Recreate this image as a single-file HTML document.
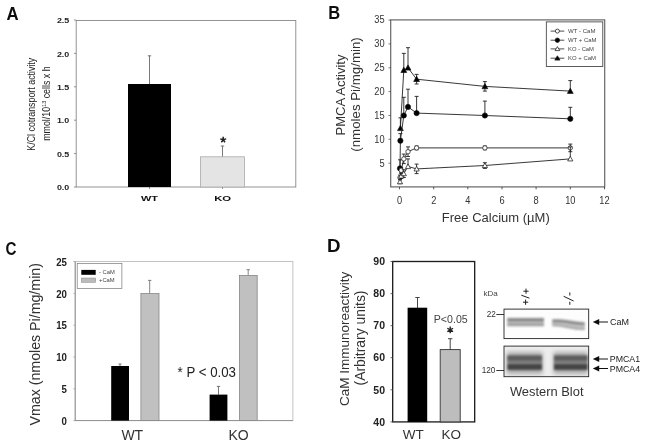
<!DOCTYPE html>
<html><head><meta charset="utf-8"><title>Figure</title>
<style>
html,body{margin:0;padding:0;background:#fff;}
body{width:645px;height:446px;overflow:hidden;font-family:"Liberation Sans",sans-serif;}
svg{display:block;font-family:"Liberation Sans",sans-serif;}
</style></head><body>
<svg width="645" height="446" viewBox="0 0 645 446">
<defs>
<filter id="bl" x="-5%" y="-5%" width="110%" height="110%"><feGaussianBlur stdDeviation="0.45"/></filter>
<filter id="b1" x="-20%" y="-60%" width="140%" height="220%"><feGaussianBlur stdDeviation="0.9"/></filter>
<filter id="b2" x="-20%" y="-60%" width="140%" height="220%"><feGaussianBlur stdDeviation="1.3"/></filter>
<filter id="b3" x="-20%" y="-60%" width="140%" height="220%"><feGaussianBlur stdDeviation="2"/></filter>
<clipPath id="cb"><rect x="504" y="346" width="85" height="31"/></clipPath>
</defs>
<rect width="645" height="446" fill="#fff"/>
<g filter="url(#bl)">

<!-- ===== Panel A ===== -->
<g id="pA">
<text transform="translate(6.4,19.9) scale(0.94,1)" text-anchor="start" font-size="17.8" font-weight="bold" fill="#111">A</text>
<rect x="76.2" y="20.5" width="219.6" height="166.5" fill="none" stroke="#888" stroke-width="0.9"/>
<path d="M74 187.0H76.2" stroke="#777" stroke-width="0.8"/>
<text x="69.3" y="190.1" text-anchor="end" font-size="6.8" font-weight="bold" fill="#222" textLength="12.4" lengthAdjust="spacingAndGlyphs">0.0</text>
<path d="M74 153.6H76.2" stroke="#777" stroke-width="0.8"/>
<text x="69.3" y="156.7" text-anchor="end" font-size="6.8" font-weight="bold" fill="#222" textLength="12.4" lengthAdjust="spacingAndGlyphs">0.5</text>
<path d="M74 120.2H76.2" stroke="#777" stroke-width="0.8"/>
<text x="69.3" y="123.3" text-anchor="end" font-size="6.8" font-weight="bold" fill="#222" textLength="12.4" lengthAdjust="spacingAndGlyphs">1.0</text>
<path d="M74 86.8H76.2" stroke="#777" stroke-width="0.8"/>
<text x="69.3" y="89.9" text-anchor="end" font-size="6.8" font-weight="bold" fill="#222" textLength="12.4" lengthAdjust="spacingAndGlyphs">1.5</text>
<path d="M74 53.4H76.2" stroke="#777" stroke-width="0.8"/>
<text x="69.3" y="56.5" text-anchor="end" font-size="6.8" font-weight="bold" fill="#222" textLength="12.4" lengthAdjust="spacingAndGlyphs">2.0</text>
<path d="M74 20.0H76.2" stroke="#777" stroke-width="0.8"/>
<text x="69.3" y="23.1" text-anchor="end" font-size="6.8" font-weight="bold" fill="#222" textLength="12.4" lengthAdjust="spacingAndGlyphs">2.5</text>
<path d="M149.5 187V189M222.5 187V189" stroke="#777" stroke-width="0.8"/>
<path d="M149.5 84V55.8M147.8 55.8H151.2" stroke="#555" stroke-width="0.8" fill="none"/>
<rect x="128" y="84" width="43" height="103" fill="#000"/>
<path d="M222.5 157V146M220.8 146H224.2" stroke="#555" stroke-width="0.8" fill="none"/>
<rect x="200.5" y="156.8" width="44" height="30.2" fill="#e4e4e4" stroke="#aaa" stroke-width="0.8"/>
<path d="M223.2 139.8L223.20 136.70M223.2 139.8L226.15 138.84M223.2 139.8L225.02 142.31M223.2 139.8L221.38 142.31M223.2 139.8L220.25 138.84" stroke="#222" stroke-width="1.5" fill="none"/>
<text x="149.5" y="200.6" text-anchor="middle" font-size="7.4" font-weight="bold" fill="#111" textLength="17" lengthAdjust="spacingAndGlyphs">WT</text>
<text x="222.7" y="200.6" text-anchor="middle" font-size="7.4" font-weight="bold" fill="#111" textLength="17" lengthAdjust="spacingAndGlyphs">KO</text>
<text transform="translate(35.3,104.2) rotate(-90) scale(0.885,1)" text-anchor="middle" font-size="10" fill="#222">K/Cl cotransport activity</text>
<text transform="translate(50.1,103.6) rotate(-90) scale(0.885,1)" text-anchor="middle" font-size="10" fill="#222">mmol/10<tspan dy="-3.8" font-size="6.2">13</tspan><tspan dy="3.8"> cells x h</tspan></text>
</g>

<!-- ===== Panel B ===== -->
<g id="pB">
<text transform="translate(328.2,18.8) scale(0.86,1)" text-anchor="start" font-size="19.2" font-weight="bold" fill="#111">B</text>
<rect x="390.7" y="19.9" width="214" height="167" fill="none" stroke="#666" stroke-width="1.2"/>
<path d="M388.5 163.2H391" stroke="#555" stroke-width="0.8"/>
<text transform="translate(384.6,166.5) scale(0.9,1)" text-anchor="end" font-size="10.3" fill="#333">5</text>
<path d="M388.5 139.3H391" stroke="#555" stroke-width="0.8"/>
<text transform="translate(384.6,142.6) scale(0.9,1)" text-anchor="end" font-size="10.3" fill="#333">10</text>
<path d="M388.5 115.5H391" stroke="#555" stroke-width="0.8"/>
<text transform="translate(384.6,118.8) scale(0.9,1)" text-anchor="end" font-size="10.3" fill="#333">15</text>
<path d="M388.5 91.6H391" stroke="#555" stroke-width="0.8"/>
<text transform="translate(384.6,94.9) scale(0.9,1)" text-anchor="end" font-size="10.3" fill="#333">20</text>
<path d="M388.5 67.8H391" stroke="#555" stroke-width="0.8"/>
<text transform="translate(384.6,71.1) scale(0.9,1)" text-anchor="end" font-size="10.3" fill="#333">25</text>
<path d="M388.5 43.9H391" stroke="#555" stroke-width="0.8"/>
<text transform="translate(384.6,47.2) scale(0.9,1)" text-anchor="end" font-size="10.3" fill="#333">30</text>
<path d="M388.5 20.1H391" stroke="#555" stroke-width="0.8"/>
<text transform="translate(384.6,23.4) scale(0.9,1)" text-anchor="end" font-size="10.3" fill="#333">35</text>
<path d="M399.5 187V189.3" stroke="#444" stroke-width="0.9"/>
<text transform="translate(399.5,204.1) scale(0.9,1)" text-anchor="middle" font-size="10.3" fill="#333">0</text>
<path d="M433.7 187V189.3" stroke="#444" stroke-width="0.9"/>
<text transform="translate(433.7,204.1) scale(0.9,1)" text-anchor="middle" font-size="10.3" fill="#333">2</text>
<path d="M467.8 187V189.3" stroke="#444" stroke-width="0.9"/>
<text transform="translate(467.8,204.1) scale(0.9,1)" text-anchor="middle" font-size="10.3" fill="#333">4</text>
<path d="M502.0 187V189.3" stroke="#444" stroke-width="0.9"/>
<text transform="translate(502.0,204.1) scale(0.9,1)" text-anchor="middle" font-size="10.3" fill="#333">6</text>
<path d="M536.1 187V189.3" stroke="#444" stroke-width="0.9"/>
<text transform="translate(536.1,204.1) scale(0.9,1)" text-anchor="middle" font-size="10.3" fill="#333">8</text>
<path d="M570.3 187V189.3" stroke="#444" stroke-width="0.9"/>
<text transform="translate(570.3,204.1) scale(0.9,1)" text-anchor="middle" font-size="10.3" fill="#333">10</text>
<path d="M604.5 187V189.3" stroke="#444" stroke-width="0.9"/>
<text transform="translate(604.5,204.1) scale(0.9,1)" text-anchor="middle" font-size="10.3" fill="#333">12</text>
<path d="M400.4 128.3 L403.8 70.1 L408.0 67.8 L416.6 79.2 L484.9 86.4 L570.3 91.1" fill="none" stroke="#222" stroke-width="0.9"/>
<path d="M400.4 128.3V117.8M398.4 117.8H402.4" stroke="#222" stroke-width="0.9" fill="none"/>
<path d="M403.8 70.1V53.4M401.8 53.4H405.8" stroke="#222" stroke-width="0.9" fill="none"/>
<path d="M408.0 67.8V47.7M406.0 47.7H410.0" stroke="#222" stroke-width="0.9" fill="none"/>
<path d="M416.6 79.2V74.4M414.6 74.4H418.6" stroke="#222" stroke-width="0.9" fill="none"/>
<path d="M416.6 79.2V84.0M414.6 84.0H418.6" stroke="#222" stroke-width="0.9" fill="none"/>
<path d="M484.9 86.4V81.6M482.9 81.6H486.9" stroke="#222" stroke-width="0.9" fill="none"/>
<path d="M484.9 86.4V91.1M482.9 91.1H486.9" stroke="#222" stroke-width="0.9" fill="none"/>
<path d="M570.3 91.1V80.6M568.3 80.6H572.3" stroke="#222" stroke-width="0.9" fill="none"/>
<path d="M400.4 125.4L403.3 130.6L397.5 130.6Z" fill="#000" stroke="#111" stroke-width="0.7"/>
<path d="M403.8 67.2L406.7 72.5L400.9 72.5Z" fill="#000" stroke="#111" stroke-width="0.7"/>
<path d="M408.0 64.9L410.9 70.1L405.1 70.1Z" fill="#000" stroke="#111" stroke-width="0.7"/>
<path d="M416.6 76.3L419.5 81.5L413.7 81.5Z" fill="#000" stroke="#111" stroke-width="0.7"/>
<path d="M484.9 83.5L487.8 88.7L482.0 88.7Z" fill="#000" stroke="#111" stroke-width="0.7"/>
<path d="M570.3 88.2L573.2 93.4L567.4 93.4Z" fill="#000" stroke="#111" stroke-width="0.7"/>
<path d="M400.0 168.4 L400.4 140.7 L403.8 115.5 L408.0 106.9 L416.6 113.1 L484.9 115.5 L570.3 118.8" fill="none" stroke="#222" stroke-width="0.9"/>
<path d="M400.0 168.4V159.8M398.0 159.8H402.0" stroke="#222" stroke-width="0.9" fill="none"/>
<path d="M400.4 140.7V133.6M398.4 133.6H402.4" stroke="#222" stroke-width="0.9" fill="none"/>
<path d="M403.8 115.5V97.3M401.8 97.3H405.8" stroke="#222" stroke-width="0.9" fill="none"/>
<path d="M408.0 106.9V89.2M406.0 89.2H410.0" stroke="#222" stroke-width="0.9" fill="none"/>
<path d="M416.6 113.1V96.4M414.6 96.4H418.6" stroke="#222" stroke-width="0.9" fill="none"/>
<path d="M484.9 115.5V101.1M482.9 101.1H486.9" stroke="#222" stroke-width="0.9" fill="none"/>
<path d="M570.3 118.8V107.3M568.3 107.3H572.3" stroke="#222" stroke-width="0.9" fill="none"/>
<circle cx="400.0" cy="168.4" r="2.6" fill="#000" stroke="#111" stroke-width="0.7"/>
<circle cx="400.4" cy="140.7" r="2.6" fill="#000" stroke="#111" stroke-width="0.7"/>
<circle cx="403.8" cy="115.5" r="2.6" fill="#000" stroke="#111" stroke-width="0.7"/>
<circle cx="408.0" cy="106.9" r="2.6" fill="#000" stroke="#111" stroke-width="0.7"/>
<circle cx="416.6" cy="113.1" r="2.6" fill="#000" stroke="#111" stroke-width="0.7"/>
<circle cx="484.9" cy="115.5" r="2.6" fill="#000" stroke="#111" stroke-width="0.7"/>
<circle cx="570.3" cy="118.8" r="2.6" fill="#000" stroke="#111" stroke-width="0.7"/>
<path d="M400.0 177.5 L401.2 170.3 L403.8 158.9 L408.0 151.7 L416.6 147.9 L484.9 147.9 L570.3 147.9" fill="none" stroke="#222" stroke-width="0.9"/>
<path d="M400.0 177.5V175.1M398.0 175.1H402.0" stroke="#222" stroke-width="0.9" fill="none"/>
<path d="M400.0 177.5V179.8M398.0 179.8H402.0" stroke="#222" stroke-width="0.9" fill="none"/>
<path d="M401.2 170.3V167.9M399.2 167.9H403.2" stroke="#222" stroke-width="0.9" fill="none"/>
<path d="M401.2 170.3V172.7M399.2 172.7H403.2" stroke="#222" stroke-width="0.9" fill="none"/>
<path d="M403.8 158.9V154.1M401.8 154.1H405.8" stroke="#222" stroke-width="0.9" fill="none"/>
<path d="M403.8 158.9V163.6M401.8 163.6H405.8" stroke="#222" stroke-width="0.9" fill="none"/>
<path d="M408.0 151.7V146.9M406.0 146.9H410.0" stroke="#222" stroke-width="0.9" fill="none"/>
<path d="M408.0 151.7V156.5M406.0 156.5H410.0" stroke="#222" stroke-width="0.9" fill="none"/>
<path d="M416.6 147.9V146.0M414.6 146.0H418.6" stroke="#222" stroke-width="0.9" fill="none"/>
<path d="M416.6 147.9V149.8M414.6 149.8H418.6" stroke="#222" stroke-width="0.9" fill="none"/>
<path d="M484.9 147.9V146.0M482.9 146.0H486.9" stroke="#222" stroke-width="0.9" fill="none"/>
<path d="M484.9 147.9V149.8M482.9 149.8H486.9" stroke="#222" stroke-width="0.9" fill="none"/>
<path d="M570.3 147.9V144.1M568.3 144.1H572.3" stroke="#222" stroke-width="0.9" fill="none"/>
<path d="M570.3 147.9V151.7M568.3 151.7H572.3" stroke="#222" stroke-width="0.9" fill="none"/>
<circle cx="400.0" cy="177.5" r="2.2" fill="#fff" stroke="#111" stroke-width="0.7"/>
<circle cx="401.2" cy="170.3" r="2.2" fill="#fff" stroke="#111" stroke-width="0.7"/>
<circle cx="403.8" cy="158.9" r="2.2" fill="#fff" stroke="#111" stroke-width="0.7"/>
<circle cx="408.0" cy="151.7" r="2.2" fill="#fff" stroke="#111" stroke-width="0.7"/>
<circle cx="416.6" cy="147.9" r="2.2" fill="#fff" stroke="#111" stroke-width="0.7"/>
<circle cx="484.9" cy="147.9" r="2.2" fill="#fff" stroke="#111" stroke-width="0.7"/>
<circle cx="570.3" cy="147.9" r="2.2" fill="#fff" stroke="#111" stroke-width="0.7"/>
<path d="M400.0 181.8 L401.2 176.0 L403.8 173.6 L408.0 166.5 L416.6 168.9 L484.9 165.5 L570.3 158.9" fill="none" stroke="#222" stroke-width="0.9"/>
<path d="M400.0 181.8V179.8M398.0 179.8H402.0" stroke="#222" stroke-width="0.9" fill="none"/>
<path d="M400.0 181.8V183.7M398.0 183.7H402.0" stroke="#222" stroke-width="0.9" fill="none"/>
<path d="M401.2 176.0V173.6M399.2 173.6H403.2" stroke="#222" stroke-width="0.9" fill="none"/>
<path d="M401.2 176.0V178.4M399.2 178.4H403.2" stroke="#222" stroke-width="0.9" fill="none"/>
<path d="M403.8 173.6V169.8M401.8 169.8H405.8" stroke="#222" stroke-width="0.9" fill="none"/>
<path d="M403.8 173.6V177.5M401.8 177.5H405.8" stroke="#222" stroke-width="0.9" fill="none"/>
<path d="M408.0 166.5V158.9M406.0 158.9H410.0" stroke="#222" stroke-width="0.9" fill="none"/>
<path d="M416.6 168.9V164.1M414.6 164.1H418.6" stroke="#222" stroke-width="0.9" fill="none"/>
<path d="M416.6 168.9V173.6M414.6 173.6H418.6" stroke="#222" stroke-width="0.9" fill="none"/>
<path d="M484.9 165.5V162.7M482.9 162.7H486.9" stroke="#222" stroke-width="0.9" fill="none"/>
<path d="M484.9 165.5V168.4M482.9 168.4H486.9" stroke="#222" stroke-width="0.9" fill="none"/>
<path d="M570.3 158.9V146.9M568.3 146.9H572.3" stroke="#222" stroke-width="0.9" fill="none"/>
<path d="M400.0 179.2L402.6 183.8L397.4 183.8Z" fill="#fff" stroke="#111" stroke-width="0.7"/>
<path d="M401.2 173.4L403.8 178.1L398.6 178.1Z" fill="#fff" stroke="#111" stroke-width="0.7"/>
<path d="M403.8 171.0L406.4 175.7L401.2 175.7Z" fill="#fff" stroke="#111" stroke-width="0.7"/>
<path d="M408.0 163.9L410.6 168.6L405.4 168.6Z" fill="#fff" stroke="#111" stroke-width="0.7"/>
<path d="M416.6 166.3L419.2 171.0L414.0 171.0Z" fill="#fff" stroke="#111" stroke-width="0.7"/>
<path d="M484.9 162.9L487.5 167.6L482.3 167.6Z" fill="#fff" stroke="#111" stroke-width="0.7"/>
<path d="M570.3 156.3L572.9 160.9L567.7 160.9Z" fill="#fff" stroke="#111" stroke-width="0.7"/>
<rect x="546.3" y="21.9" width="56.5" height="44.6" fill="#fff" stroke="#333" stroke-width="0.8"/>
<g stroke="#222" stroke-width="0.8">
<path d="M550.6 31.1H564.3M550.6 40.2H564.3M550.6 48.9H564.3M550.6 58.2H564.3" fill="none"/>
<circle cx="557.4" cy="31.1" r="2" fill="#fff"/>
<circle cx="557.4" cy="40.2" r="2.2" fill="#000"/>
<path d="M557.4 46.6L559.8 50.6L555 50.6Z" fill="#fff"/>
<path d="M557.4 55.8L560 60.1L554.8 60.1Z" fill="#000"/>
</g>
<g font-size="5.6" fill="#444">
<text x="568" y="33.1" textLength="27.5" lengthAdjust="spacingAndGlyphs">WT - CaM</text>
<text x="568" y="42.2" textLength="28.5" lengthAdjust="spacingAndGlyphs">WT + CaM</text>
<text x="568" y="50.9" textLength="26" lengthAdjust="spacingAndGlyphs">KO - CaM</text>
<text x="568" y="60.2" textLength="28" lengthAdjust="spacingAndGlyphs">KO + CaM</text>
</g>
<text transform="translate(344.6,95) rotate(-90)" text-anchor="middle" font-size="13" fill="#333">PMCA Activity</text>
<text transform="translate(360.3,94.5) rotate(-90)" text-anchor="middle" font-size="13.3" fill="#333">(nmoles Pi/mg/min)</text>
<text x="495.8" y="222" text-anchor="middle" font-size="13" fill="#333">Free Calcium (µM)</text>
</g>

<!-- ===== Panel C ===== -->
<g id="pC">
<text transform="translate(5.4,254.6) scale(0.8,1)" text-anchor="start" font-size="19" font-weight="bold" fill="#111">C</text>
<rect x="75.2" y="261.5" width="217.7" height="159.1" fill="none" stroke="#b5b5b5" stroke-width="0.8"/>
<path d="M75.2 261.5V420.6H292.9" fill="none" stroke="#8a8a8a" stroke-width="0.9"/>
<path d="M73.3 420.6H75.2" stroke="#999" stroke-width="0.7"/>
<text transform="translate(66.9,424.7) scale(0.92,1)" text-anchor="end" font-size="10.5" font-weight="bold" fill="#222">0</text>
<path d="M73.3 388.8H75.2" stroke="#999" stroke-width="0.7"/>
<text transform="translate(66.9,392.9) scale(0.92,1)" text-anchor="end" font-size="10.5" font-weight="bold" fill="#222">5</text>
<path d="M73.3 357.0H75.2" stroke="#999" stroke-width="0.7"/>
<text transform="translate(66.9,361.1) scale(0.92,1)" text-anchor="end" font-size="10.5" font-weight="bold" fill="#222">10</text>
<path d="M73.3 325.2H75.2" stroke="#999" stroke-width="0.7"/>
<text transform="translate(66.9,329.3) scale(0.92,1)" text-anchor="end" font-size="10.5" font-weight="bold" fill="#222">15</text>
<path d="M73.3 293.4H75.2" stroke="#999" stroke-width="0.7"/>
<text transform="translate(66.9,297.5) scale(0.92,1)" text-anchor="end" font-size="10.5" font-weight="bold" fill="#222">20</text>
<path d="M73.3 261.6H75.2" stroke="#999" stroke-width="0.7"/>
<text transform="translate(66.9,265.7) scale(0.92,1)" text-anchor="end" font-size="10.5" font-weight="bold" fill="#222">25</text>
<rect x="77.2" y="263.6" width="44.7" height="24.8" fill="#fff" stroke="#777" stroke-width="0.7"/>
<rect x="81.3" y="269.9" width="14.4" height="4.9" fill="#000"/>
<rect x="81.3" y="278" width="14.4" height="4.4" fill="#bbb" stroke="#888" stroke-width="0.5"/>
<text x="99" y="274.4" font-size="5.8" fill="#444">- CaM</text>
<text x="99" y="282.3" font-size="5.8" fill="#444">+CaM</text>
<path d="M120 366V364M118.5 364H121.5" stroke="#555" stroke-width="0.8" fill="none"/>
<rect x="111.2" y="366" width="17.8" height="54.6" fill="#000"/>
<path d="M149.7 293.5V280.4M148 280.4H151.4" stroke="#666" stroke-width="0.8" fill="none"/>
<rect x="140.9" y="293.5" width="18.1" height="127.1" fill="#c0c0c0" stroke="#888" stroke-width="0.8"/>
<path d="M218.5 394.6V386.4M216.8 386.4H220.2" stroke="#555" stroke-width="0.8" fill="none"/>
<rect x="209.6" y="394.6" width="17.8" height="26" fill="#000"/>
<path d="M248.2 275.4V269.7M246.5 269.7H249.9" stroke="#666" stroke-width="0.8" fill="none"/>
<rect x="239.4" y="275.4" width="17.8" height="145.2" fill="#c0c0c0" stroke="#888" stroke-width="0.8"/>
<text transform="translate(177.6,377.3) scale(0.91,1)" text-anchor="start" font-size="14.6" fill="#222">* P &lt; 0.03</text>
<text x="132.3" y="440.4" text-anchor="middle" font-size="14" fill="#333">WT</text>
<text x="238.6" y="440.4" text-anchor="middle" font-size="14" fill="#333">KO</text>
<text transform="translate(40.3,344.3) rotate(-90)" text-anchor="middle" font-size="14.2" fill="#333">Vmax (nmoles Pi/mg/min)</text>
</g>

<!-- ===== Panel D ===== -->
<g id="pD">
<text transform="translate(326.9,252.4) scale(1.05,1)" text-anchor="start" font-size="17.8" font-weight="bold" fill="#111">D</text>
<rect x="392.7" y="261.5" width="82" height="160.4" fill="none" stroke="#1a1a1a" stroke-width="1.3"/>
<path d="M390.5 421.9H392.7" stroke="#444" stroke-width="0.8"/>
<text transform="translate(385.0,425.6)" text-anchor="end" font-size="10.5" font-weight="bold" fill="#222">40</text>
<path d="M390.5 389.8H392.7" stroke="#444" stroke-width="0.8"/>
<text transform="translate(385.0,393.5)" text-anchor="end" font-size="10.5" font-weight="bold" fill="#222">50</text>
<path d="M390.5 357.7H392.7" stroke="#444" stroke-width="0.8"/>
<text transform="translate(385.0,361.4)" text-anchor="end" font-size="10.5" font-weight="bold" fill="#222">60</text>
<path d="M390.5 325.7H392.7" stroke="#444" stroke-width="0.8"/>
<text transform="translate(385.0,329.4)" text-anchor="end" font-size="10.5" font-weight="bold" fill="#222">70</text>
<path d="M390.5 293.6H392.7" stroke="#444" stroke-width="0.8"/>
<text transform="translate(385.0,297.3)" text-anchor="end" font-size="10.5" font-weight="bold" fill="#222">80</text>
<path d="M390.5 261.5H392.7" stroke="#444" stroke-width="0.8"/>
<text transform="translate(385.0,265.2)" text-anchor="end" font-size="10.5" font-weight="bold" fill="#222">90</text>
<path d="M417.5 308V297.5M415.3 297.5H419.7" stroke="#333" stroke-width="0.9" fill="none"/>
<rect x="407.6" y="307.7" width="19.6" height="114.2" fill="#000"/>
<path d="M450.2 350V338.7M448 338.7H452.4" stroke="#333" stroke-width="0.9" fill="none"/>
<rect x="440.2" y="349.6" width="20" height="72.3" fill="#bdbdbd" stroke="#333" stroke-width="0.9"/>
<text transform="translate(433.8,323.1) scale(0.93,1)" text-anchor="start" font-size="11.4" fill="#444">P&lt;0.05</text>
<path d="M450.2 329.9L450.20 326.60M450.2 329.9L453.06 328.25M450.2 329.9L453.06 331.55M450.2 329.9L450.20 333.20M450.2 329.9L447.34 331.55M450.2 329.9L447.34 328.25" stroke="#222" stroke-width="1.4" fill="none"/>
<text x="413.2" y="438.6" text-anchor="middle" font-size="13.5" fill="#333">WT</text>
<text x="451.3" y="438.6" text-anchor="middle" font-size="13.5" fill="#333">KO</text>
<text transform="translate(348.5,338.8) rotate(-90)" text-anchor="middle" font-size="13.5" fill="#333">CaM Immunoreactivity</text>
<text transform="translate(364.5,338) rotate(-90)" text-anchor="middle" font-size="13.9" fill="#333">(Arbitrary units)</text>

<!-- western blot -->
<text x="483.5" y="295.9" font-size="8" fill="#444">kDa</text>
<g stroke="#222" stroke-width="1" fill="none">
<path d="M526 288.6V293.8M523.4 291.2H528.6"/>
<path d="M525.6 299.6V304.8M523 302.2H528.2"/>
<path d="M521.3 295.2L529.5 298.2"/>
<path d="M569.8 292.4V295.5M569.8 301.7V304.8"/>
<path d="M563.6 296.3L573.6 301"/>
</g>
<rect x="504" y="309.1" width="84.7" height="29.5" fill="#fdfdfd" stroke="#222" stroke-width="0.9"/>
<text x="495.8" y="317.3" text-anchor="end" font-size="8.2" fill="#333">22</text>
<path d="M496.3 314.5H504" stroke="#222" stroke-width="0.9"/>
<g filter="url(#b1)">
<rect x="507" y="317.8" width="37" height="8.6" fill="#c4c4c4"/>
<rect x="507.5" y="318.3" width="36.5" height="3.2" fill="#858585"/>
<rect x="507.5" y="323.4" width="36.5" height="2.6" fill="#9c9c9c"/>
<path d="M552 319.2 Q560 318.5 568 320 T585 322 L585 330 Q576 330.5 568 327.5 T552 326Z" fill="#c4c4c4"/>
<path d="M552.5 319.6 Q560 319 568 320.5 T584.5 322.5 L584.5 325.3 Q576 325 568 323.5 T552.5 322.6Z" fill="#8a8a8a"/>
<path d="M552.5 324.2 Q560 324 568 326 T584.5 328 L584.5 330 Q576 330 568 328.2 T552.5 326.3Z" fill="#a5a5a5"/>
</g>
<rect x="504" y="346.1" width="84.7" height="30.6" fill="#ededed"/>
<g clip-path="url(#cb)">
<g filter="url(#b3)">
<rect x="507" y="352" width="35.5" height="22" fill="#aaa"/>
<rect x="553.5" y="352" width="34" height="22" fill="#aaa"/>
</g>
<g filter="url(#b2)">
<rect x="507.5" y="355.5" width="34.5" height="14.5" fill="#808080"/>
<rect x="554" y="355.5" width="33.5" height="14.5" fill="#808080"/>
<rect x="507.5" y="355.6" width="34.5" height="5" fill="#5c5c5c"/>
<rect x="507.5" y="364" width="34.5" height="5.8" fill="#454545"/>
<rect x="554" y="355.6" width="33.5" height="5" fill="#5c5c5c"/>
<rect x="554" y="364" width="33.5" height="5.8" fill="#454545"/>
</g>
</g>
<rect x="504" y="346.1" width="84.7" height="30.6" fill="none" stroke="#222" stroke-width="0.9"/>
<text x="495.4" y="373.4" text-anchor="end" font-size="8.2" fill="#333">120</text>
<path d="M496.3 370.5H504" stroke="#222" stroke-width="0.9"/>
<g fill="#111" stroke="#111">
<path d="M597 322H608" stroke-width="1"/><path d="M592.8 322L599.2 319V325Z" stroke="none"/>
<path d="M597 359H608" stroke-width="1"/><path d="M592.8 359L599.2 356V362Z" stroke="none"/>
<path d="M597 368.5H608" stroke-width="1"/><path d="M592.8 368.5L599.2 365.5V371.5Z" stroke="none"/>
</g>
<text x="610" y="325.2" font-size="9" fill="#222">CaM</text>
<text x="609.8" y="362.2" font-size="8.8" fill="#222">PMCA1</text>
<text x="609.8" y="371.7" font-size="8.8" fill="#222">PMCA4</text>
<text x="546.7" y="395.8" text-anchor="middle" font-size="12.9" fill="#333">Western Blot</text>
</g>

</g>
</svg>
</body></html>
